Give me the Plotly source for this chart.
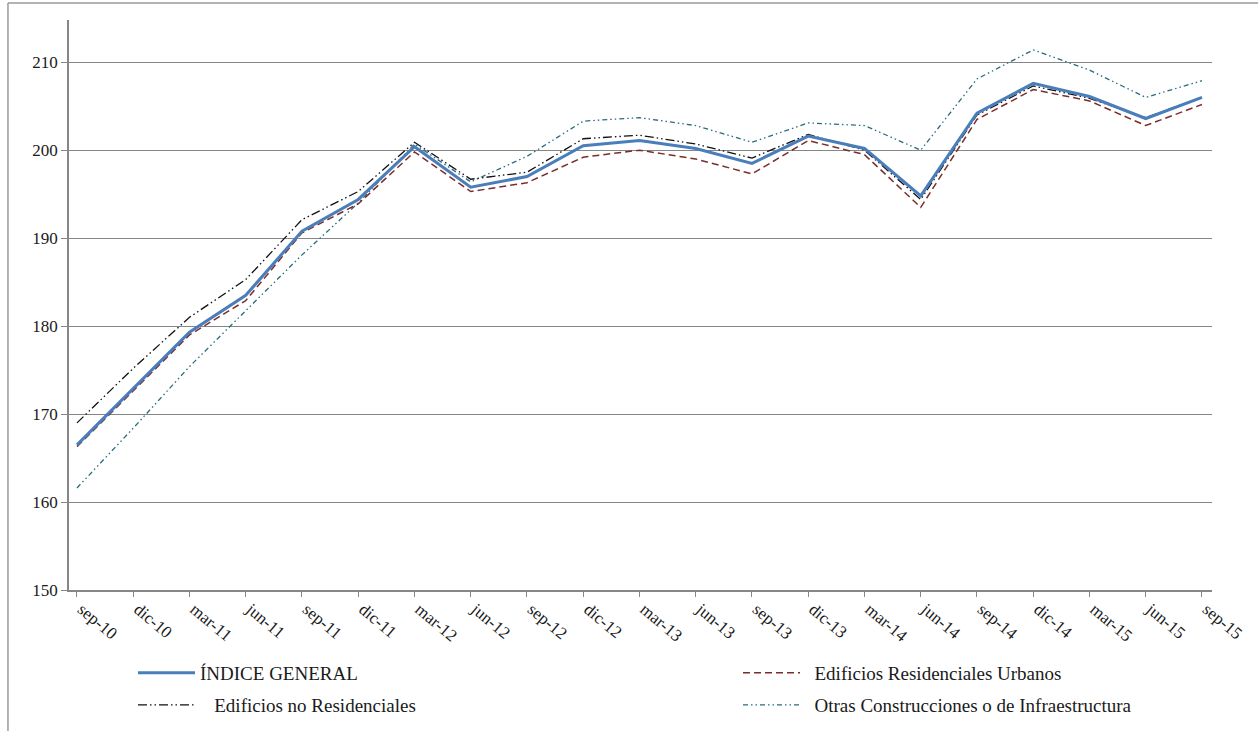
import plotly.graph_objects as go

categories = ["sep-10", "dic-10", "mar-11", "jun-11", "sep-11", "dic-11", "mar-12",
              "jun-12", "sep-12", "dic-12", "mar-13", "jun-13", "sep-13", "dic-13",
              "mar-14", "jun-14", "sep-14", "dic-14", "mar-15", "jun-15", "sep-15"]

indice_general = [166.5, 172.9, 179.3, 183.5, 190.8, 194.4, 200.4, 195.8, 197.0, 200.5, 201.1,
                  200.2, 198.5, 201.6, 200.2, 194.8, 204.2, 207.6, 206.1, 203.6, 206.0]
residenciales = [166.3, 172.6, 179.0, 182.9, 190.6, 193.9, 199.8, 195.3, 196.3, 199.2, 200.0,
                 199.0, 197.3, 201.1, 199.5, 193.5, 203.5, 206.9, 205.6, 202.8, 205.2]
no_residenciales = [169.0, 175.2, 181.0, 185.3, 192.1, 195.3, 200.9, 196.7, 197.5, 201.3, 201.7,
                    200.7, 199.1, 201.8, 200.0, 194.4, 204.0, 207.3, 205.9, 203.7, 206.0]
otras_construcciones = [161.6, 168.4, 175.4, 181.7, 188.1, 194.0, 200.7, 196.4, 199.3, 203.3, 203.7,
                        202.8, 200.9, 203.1, 202.8, 200.0, 208.1, 211.4, 209.1, 206.0, 207.9]

y_ticks = [150, 160, 170, 180, 190, 200, 210]

FONT = "Liberation Serif"
W, H = 1258, 731

fig = go.Figure()

fig.add_trace(go.Scatter(
    x=categories, y=otras_construcciones, mode="lines",
    name="\u00a0\u00a0Otras Construcciones o de Infraestructura",
    line=dict(color="#2B6C7C", width=1.3, dash="5px,3px,1.5px,3px,1.5px,3px"),
    legend="legend4", showlegend=True))
fig.add_trace(go.Scatter(
    x=categories, y=no_residenciales, mode="lines",
    name="\u00a0\u00a0\u00a0Edificios no Residenciales",
    line=dict(color="#111111", width=1.3, dash="9px,3px,1.5px,3px,1.5px,3px"),
    legend="legend3", showlegend=True))
fig.add_trace(go.Scatter(
    x=categories, y=residenciales, mode="lines",
    name="\u00a0\u00a0Edificios Residenciales Urbanos",
    line=dict(color="#7A2E2C", width=1.5, dash="7px,4px"),
    legend="legend2", showlegend=True))
fig.add_trace(go.Scatter(
    x=categories, y=indice_general, mode="lines",
    name="ÍNDICE GENERAL",
    line=dict(color="#4A7EBB", width=3),
    legend="legend", showlegend=True))


def leg(px, py, iw):
    return dict(
        xref="container", yref="container",
        x=px / W, y=1 - py / H, xanchor="left", yanchor="middle",
        orientation="h",
        font=dict(family=FONT, size=19, color="#1a1a1a"),
        itemwidth=iw, bgcolor="rgba(0,0,0,0)",
    )


fig.update_layout(
    width=W, height=H, showlegend=True,
    margin=dict(l=69, r=46, t=20, b=141, autoexpand=False),
    paper_bgcolor="white", plot_bgcolor="white",
    font=dict(family=FONT, size=16, color="#1a1a1a"),
    legend=leg(133, 673, 57),
    legend2=leg(738, 673, 57),
    legend3=leg(133, 705, 57),
    legend4=leg(738, 705, 57),
    xaxis=dict(
        type="category", range=[-0.142, 20.178],
        showline=True, linecolor="#868686", linewidth=1.5,
        ticks="outside", ticklen=5, tickcolor="#868686", tickwidth=1,
        tickangle=40, showgrid=False, ticklabelshift=5, ticklabelstandoff=-4,
        tickfont=dict(family=FONT, size=17, color="#1a1a1a"),
    ),
    yaxis=dict(
        range=[150, 214.8], tickvals=y_ticks,
        showline=True, linecolor="#868686", linewidth=1.5,
        ticks="outside", ticklen=6, tickcolor="#868686", tickwidth=1,
        showgrid=True, gridcolor="#868686", gridwidth=1.2,
        zeroline=False,
        tickfont=dict(family=FONT, size=17, color="#1a1a1a"),
    ),
    shapes=[
        dict(type="line", xref="paper", yref="paper", x0=-0.0534, x1=1.05, y0=1.0298, y1=1.0298,
             line=dict(color="#9a9a9a", width=1.5)),
        dict(type="line", xref="paper", yref="paper", x0=-0.0534, x1=-0.0534, y0=1.0298, y1=-0.26,
             line=dict(color="#9a9a9a", width=1.5)),
    ],
)

fig.write_html("out.html", config={"displayModeBar": False},
               post_script="document.body.style.margin='0';")
